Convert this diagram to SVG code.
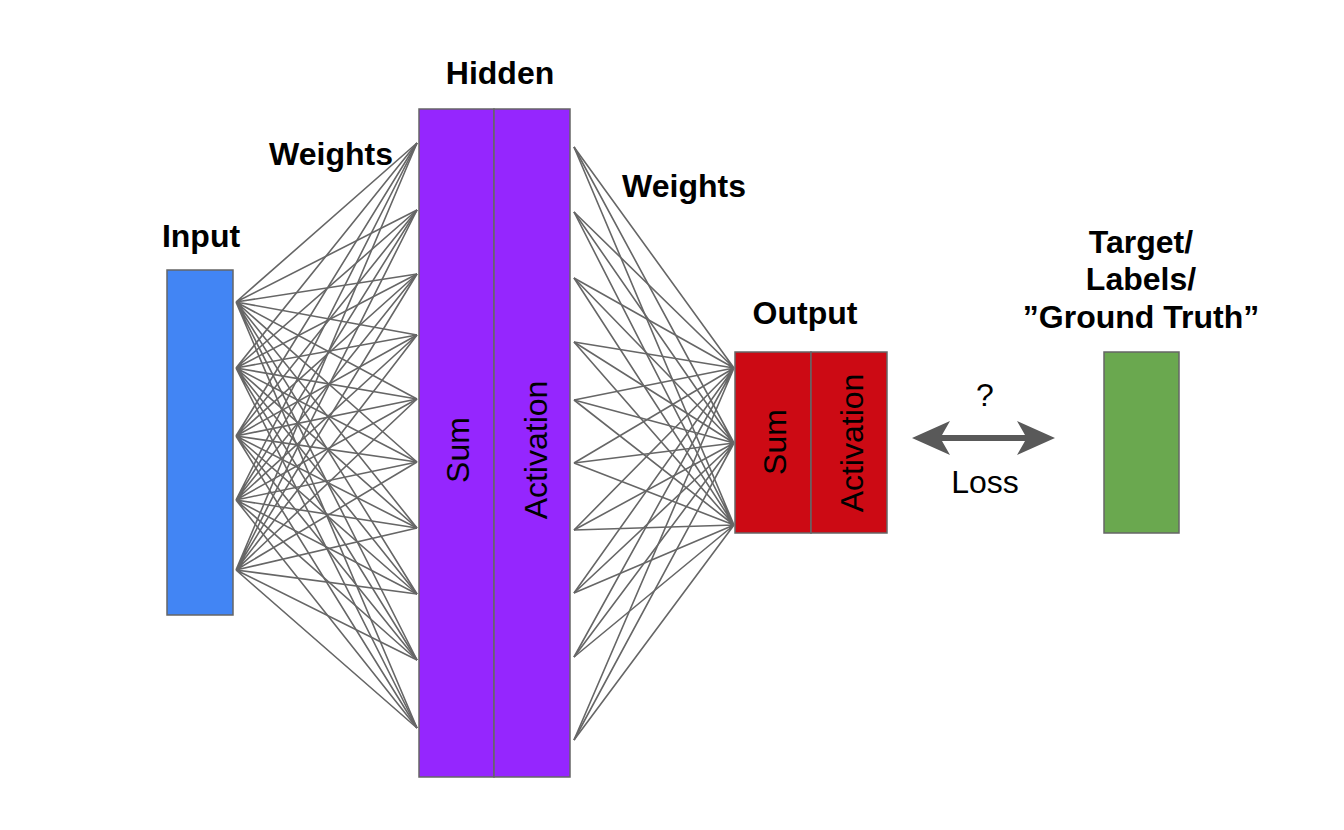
<svg xmlns="http://www.w3.org/2000/svg" width="1344" height="830" viewBox="0 0 1344 830">
<style>
.box{stroke:#666666;stroke-width:1.5}
.w{stroke:#666666;stroke-width:1.6;fill:none}
.b{font-family:"Liberation Sans",Arial,sans-serif;font-weight:bold;font-size:32px;fill:#000;text-anchor:middle}
.r{font-family:"Liberation Sans",Arial,sans-serif;font-size:32px;fill:#000;text-anchor:middle}
</style>
<rect width="1344" height="830" fill="#ffffff"/>
<g id="connectors">
<g id="w1" class="w">
<path d="M236 302L417 143M236 302L417 210M236 302L417 274M236 302L417 335M236 302L417 399M236 302L417 462M236 302L417 528M236 302L417 594M236 302L417 660M236 302L417 728"/>
<path d="M236 368L417 143M236 368L417 210M236 368L417 274M236 368L417 335M236 368L417 399M236 368L417 462M236 368L417 528M236 368L417 594M236 368L417 660M236 368L417 728"/>
<path d="M236 436L417 143M236 436L417 210M236 436L417 274M236 436L417 335M236 436L417 399M236 436L417 462M236 436L417 528M236 436L417 594M236 436L417 660M236 436L417 728"/>
<path d="M236 500L417 143M236 500L417 210M236 500L417 274M236 500L417 335M236 500L417 399M236 500L417 462M236 500L417 528M236 500L417 594M236 500L417 660M236 500L417 728"/>
<path d="M236 570L417 143M236 570L417 210M236 570L417 274M236 570L417 335M236 570L417 399M236 570L417 462M236 570L417 528M236 570L417 594M236 570L417 660M236 570L417 728"/>
</g>
<g id="w2" class="w">
<path d="M574 147L734 368M574 212L734 368M574 278L734 368M574 342L734 368M574 400L734 368M574 463L734 368M574 530L734 368M574 593L734 368M574 657L734 368M574 740L734 368"/>
<path d="M574 147L734 443M574 212L734 443M574 278L734 443M574 342L734 443M574 400L734 443M574 463L734 443M574 530L734 443M574 593L734 443M574 657L734 443M574 740L734 443"/>
<path d="M574 147L734 525M574 212L734 525M574 278L734 525M574 342L734 525M574 400L734 525M574 463L734 525M574 530L734 525M574 593L734 525M574 657L734 525M574 740L734 525"/>
</g>
<g id="loss-arrow">
<path d="M912 438L950 421L942 435L1025 435L1017 421L1055 438L1017 455L1025 441L942 441L950 455Z" fill="#595959"/>
</g>
</g>
<g id="input">
<rect class="box" x="167" y="270" width="66" height="345" fill="#4285F4"/>
<text class="b" x="201" y="247">Input</text>
</g>
<g id="hidden">
<rect class="box" x="419" y="109" width="75" height="668" fill="#9526FE"/>
<rect class="box" x="494" y="109" width="76" height="668" fill="#9526FE"/>
<text class="b" x="500" y="84">Hidden</text>
<text class="r" transform="translate(457 450) rotate(-90)" x="0" y="11.5">Sum</text>
<text class="r" transform="translate(535 450) rotate(-90)" x="0" y="11.5">Activation</text>
</g>
<g id="weights-labels">
<text class="b" x="331" y="165">Weights</text>
<text class="b" x="684" y="197">Weights</text>
</g>
<g id="output">
<rect class="box" x="735" y="352" width="76" height="181" fill="#CC0A14"/>
<rect class="box" x="811" y="352" width="76" height="181" fill="#CC0A14"/>
<text class="b" x="805" y="324">Output</text>
<text class="r" transform="translate(774 442) rotate(-90)" x="0" y="11.5">Sum</text>
<text class="r" transform="translate(851 443) rotate(-90)" x="0" y="11.5">Activation</text>
</g>
<g id="loss-labels">
<text class="r" x="985" y="406">?</text>
<text class="r" x="985" y="493">Loss</text>
</g>
<g id="target">
<rect class="box" x="1104" y="352" width="75" height="181" fill="#6AA84F"/>
<text class="b" x="1141" y="253">Target/</text>
<text class="b" x="1141" y="290">Labels/</text>
<text class="b" x="1141" y="328">”Ground Truth”</text>
</g>
</svg>
